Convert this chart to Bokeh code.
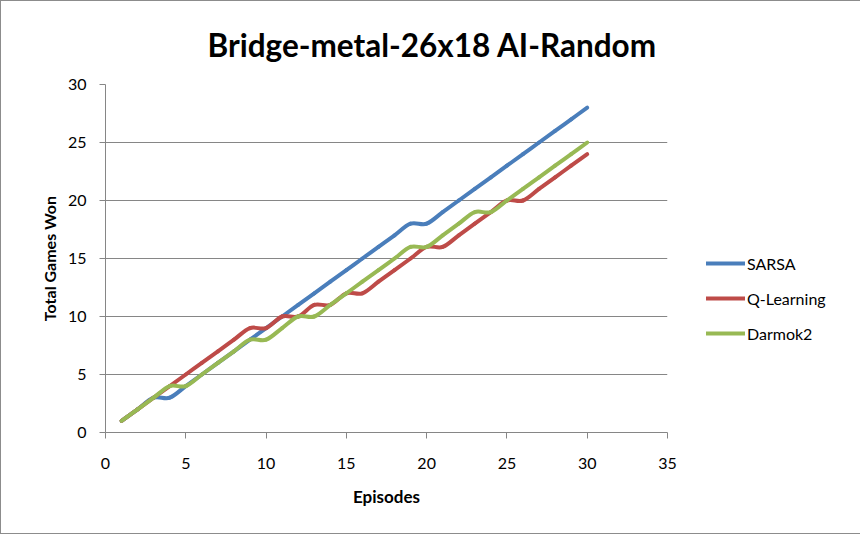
import numpy as np
from bokeh.plotting import figure
from bokeh.models import Legend, LegendItem, Title, SingleIntervalTicker, ColumnDataSource
from bokeh.embed import file_html
from bokeh.resources import INLINE

# ---- data ----
episodes = list(range(1, 31))
sarsa = [1, 2, 3, 3, 4, 5, 6, 7, 8, 9, 10, 11, 12, 13, 14, 15, 16, 17, 18, 18,
         19, 20, 21, 22, 23, 24, 25, 26, 27, 28]
qlearning = [1, 2, 3, 4, 5, 6, 7, 8, 9, 9, 10, 10, 11, 11, 12, 12, 13, 14, 15, 16,
             16, 17, 18, 19, 20, 20, 21, 22, 23, 24]
darmok2 = [1, 2, 3, 4, 4, 5, 6, 7, 8, 8, 9, 10, 10, 11, 12, 13, 14, 15, 16, 16,
           17, 18, 19, 19, 20, 21, 22, 23, 24, 25]
series_names = ["SARSA", "Q-Learning", "Darmok2"]
series_values = [sarsa, qlearning, darmok2]
colors = ["#4A7EBB", "#BE4B48", "#98B954"]

FONT = "Lato"

p = figure(frame_width=562, frame_height=348, x_range=(0, 35), y_range=(0, 30),
           output_backend="svg", toolbar_location=None,
           min_border_left=104, min_border_right=185, min_border_top=83, min_border_bottom=101)
p.styles = {"border": "1px solid #8c8c8c"}
p.outline_line_color = None
p.background_fill_color = "white"
p.border_fill_color = "white"

title = Title(text="Bridge-metal-26x18 AI-Random", align="left", offset=102,
              text_font=FONT, text_font_size="31.5px", text_font_style="bold",
              text_color="black", standoff=42)
p.add_layout(title, "above")


def smooth_segments(xs, ys, t=1.0 / 6.0):
    x = np.asarray(xs, dtype=float)
    y = np.asarray(ys, dtype=float)
    xp = np.concatenate([[x[0]], x, [x[-1]]])
    yp = np.concatenate([[y[0]], y, [y[-1]]])
    n = len(x) - 1
    d = dict(x0=[], y0=[], x1=[], y1=[], cx0=[], cy0=[], cx1=[], cy1=[])
    for i in range(n):
        p0x, p0y = xp[i], yp[i]
        p1x, p1y = xp[i + 1], yp[i + 1]
        p2x, p2y = xp[i + 2], yp[i + 2]
        p3x, p3y = xp[i + 3], yp[i + 3]
        d["x0"].append(p1x); d["y0"].append(p1y)
        d["x1"].append(p2x); d["y1"].append(p2y)
        d["cx0"].append(p1x + (p2x - p0x) * t); d["cy0"].append(p1y + (p2y - p0y) * t)
        d["cx1"].append(p2x - (p3x - p1x) * t); d["cy1"].append(p2y - (p3y - p1y) * t)
    return ColumnDataSource(d)


items = []
for name, vals, col in zip(series_names, series_values, colors):
    src = smooth_segments(episodes, vals)
    r = p.bezier(x0="x0", y0="y0", x1="x1", y1="y1", cx0="cx0", cy0="cy0",
                 cx1="cx1", cy1="cy1", source=src, line_color=col, line_width=4,
                 line_cap="round")
    items.append(LegendItem(label=name, renderers=[r]))

legend = Legend(items=items, location=(39, 89), orientation="vertical",
                label_text_font=FONT, label_text_font_size="16px", label_text_color="black",
                glyph_width=39, glyph_height=20, label_standoff=2, spacing=15,
                border_line_color=None, background_fill_alpha=0, padding=0, margin=0)
p.add_layout(legend, "right")

# axes
for ax in (p.xaxis[0], p.yaxis[0]):
    ax.axis_line_color = "#868686"
    ax.major_tick_line_color = "#868686"
    ax.minor_tick_line_color = None
    ax.major_tick_in = 0
    ax.major_tick_out = 6
    ax.major_label_text_font = FONT
    ax.major_label_text_font_size = "16px"
    ax.major_label_text_color = "black"
    ax.axis_label_text_font = FONT
    ax.axis_label_text_font_style = "bold"
    ax.axis_label_text_color = "black"

p.xaxis.ticker = SingleIntervalTicker(interval=5)
p.yaxis.ticker = SingleIntervalTicker(interval=5)
p.xaxis.axis_label = "Episodes"
p.xaxis.axis_label_text_font_size = "17px"
p.xaxis.axis_label_standoff = 14
p.xaxis.major_label_standoff = 19
p.yaxis.axis_label = "Total Games Won"
p.yaxis.axis_label_text_font_size = "16px"
p.yaxis.axis_label_standoff = 6
p.yaxis.major_label_standoff = 13

p.xgrid.grid_line_color = None
p.ygrid.grid_line_color = "#868686"
p.ygrid.grid_line_width = 1

open("out.html", "w").write(file_html(p, INLINE))
